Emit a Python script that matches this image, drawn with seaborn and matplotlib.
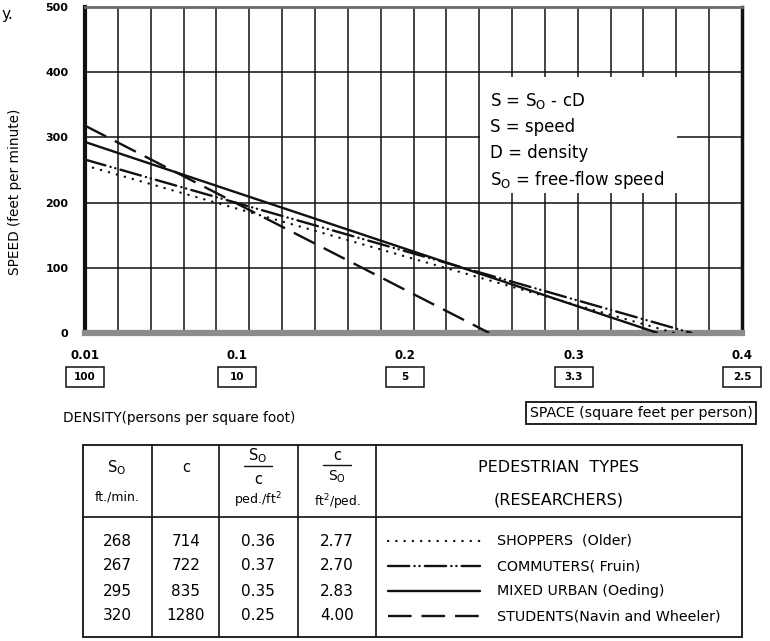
import numpy as np
import pandas as pd
import matplotlib
matplotlib.use("Agg")
import matplotlib.pyplot as plt
from matplotlib.patches import Rectangle
from matplotlib.lines import Line2D
import seaborn as sns

# ---------------- data ----------------
ped_types = ["SHOPPERS (Older)", "COMMUTERS (Fruin)", "MIXED URBAN (Oeding)",
             "STUDENTS (Navin and Wheeler)"]
free_flow_speed = [268, 267, 295, 320]          # S0, ft/min (table)
c_coef = [714, 722, 835, 1280]                   # c (table)
jam_density = [0.36, 0.37, 0.35, 0.25]           # S0/c, ped/ft2 (table)
space_at_jam = [2.77, 2.70, 2.83, 4.00]          # c/S0, ft2/ped (table)
line_start_speed = [257, 266, 293, 318]          # speed read at left edge of chart
density_ticks = [0.01, 0.1, 0.2, 0.3, 0.4]
density_tick_labels = ["0.01", "0.1", "0.2", "0.3", "0.4"]
space_tick_labels = ["100", "10", "5", "3.3", "2.5"]
speed_ticks = [0, 100, 200, 300, 400, 500]

x_min, x_max = 0.01, 0.4

rows = []
for t, s0, dj in zip(ped_types, line_start_speed, jam_density):
    rows.append({"type": t, "density": x_min, "speed": s0})
    rows.append({"type": t, "density": dj, "speed": 0})
df = pd.DataFrame(rows)

dash_map = {
    ped_types[0]: (0.1, 3.4),
    ped_types[1]: (9, 2.2, 0.1, 2.0, 0.1, 2.2),
    ped_types[2]: "",
    ped_types[3]: (10, 4.2),
}

# ---------------- figure ----------------
sns.set_style("white")
plt.rcParams["font.family"] = ["DejaVu Sans"]
plt.rcParams["mathtext.default"] = "regular"
plt.rcParams["text.color"] = "black"
plt.rcParams["xtick.color"] = "black"
plt.rcParams["ytick.color"] = "black"
plt.rcParams["axes.labelcolor"] = "black"

W, H = 770, 641
fig = plt.figure(figsize=(W / 100, H / 100), dpi=100)
ax = fig.add_axes([85 / W, 1 - 333 / H, 657 / W, 326 / H])

LW = 1.7
sns.lineplot(data=df, x="density", y="speed", style="type", style_order=ped_types,
             dashes=dash_map, color="#111111", linewidth=LW, legend=False,
             estimator=None, sort=False, ax=ax, zorder=3)
for ln, t in zip(ax.lines, ped_types):
    ln.set_dash_capstyle("round" if t != ped_types[3] else "butt")
    ln.set_solid_capstyle("butt")

ax.set_xlim(x_min, x_max)
ax.set_ylim(0, 500)
ax.set_xticks(np.linspace(x_min, x_max, 21))
ax.set_xticklabels([])
ax.set_yticks(speed_ticks)
ax.set_yticklabels([str(v) for v in speed_ticks], fontsize=8, fontweight="bold")
ax.tick_params(axis="x", length=7, width=1.1, direction="out", color="black", pad=2)
ax.tick_params(axis="y", length=7, width=1.1, direction="out", color="black", pad=5)
ax.grid(True, color="#111111", linewidth=1.1)
ax.set_axisbelow(True)
ax.set_xlabel("")
ax.set_ylabel("")

ax.spines["left"].set_linewidth(3)
ax.spines["left"].set_color("#111111")
ax.spines["right"].set_linewidth(2.5)
ax.spines["right"].set_color("#111111")
ax.spines["top"].set_linewidth(2)
ax.spines["top"].set_color("#6a6a6a")
ax.spines["bottom"].set_linewidth(4.5)
ax.spines["bottom"].set_color("#8c8c8c")

# formula box
ax.add_patch(Rectangle((0.601, 0.429), 0.30, 0.356, transform=ax.transAxes,
                       facecolor="white", edgecolor="none", zorder=1.5))
formula = ["S = S$_{O}$ - cD", "S = speed", "D = density", "S$_{O}$ = free-flow speed"]
for txt, yy in zip(formula, [0.712, 0.632, 0.552, 0.469]):
    ax.text(0.616, yy, txt, transform=ax.transAxes, fontsize=12, va="center",
            ha="left", zorder=4)

# density / space labels under axis
xt = ax.get_xaxis_transform()
box_w = 38 / 657 * (x_max - x_min)
box_h = 20 / 326
for d, dl, sl in zip(density_ticks, density_tick_labels, space_tick_labels):
    ax.text(d, -0.070, dl, transform=xt, ha="center", va="center",
            fontsize=8.5, fontweight="bold", clip_on=False)
    ax.add_patch(Rectangle((d - box_w / 2, -0.135 - box_h / 2), box_w, box_h,
                           transform=xt, facecolor="white", edgecolor="#111111",
                           linewidth=1.1, clip_on=False))
    ax.text(d, -0.135, sl, transform=xt, ha="center", va="center",
            fontsize=7.5, fontweight="bold", clip_on=False)

fig.text(63 / W, 1 - 418 / H, "DENSITY(persons per square foot)", fontsize=9.8,
         ha="left", va="center")
fig.text(641 / W, 1 - 413 / H, "SPACE (square feet per person)", fontsize=10.2,
         ha="center", va="center",
         bbox=dict(boxstyle="square,pad=0.25", facecolor="white",
                   edgecolor="#111111", linewidth=1.3))
fig.text(15 / W, 1 - 192 / H, "SPEED (feet per minute)", fontsize=9.8,
         rotation=90, ha="center", va="center")
fig.text(2 / W, 1 - 14 / H, "y.", fontsize=11, ha="left", va="center")

# ---------------- table (overlay in pixel coords) ----------------
ov = fig.add_axes([0, 0, 1, 1])
ov.set_xlim(0, W)
ov.set_ylim(H, 0)
ov.axis("off")
ov.patch.set_alpha(0)

k = dict(color="#111111", linewidth=1.2)
top, hdr, bot, left, right = 445, 517, 637, 83, 742
ov.add_patch(Rectangle((left, top), right - left, bot - top, fill=False,
                       edgecolor="#111111", linewidth=1.3))
for xc in [152, 219, 298, 376]:
    ov.plot([xc, xc], [top, bot], **k)
ov.plot([left, right], [hdr, hdr], **k)

fs_h = 9
ov.text(117, 468, "S$_{O}$", fontsize=10.5, ha="center", va="center")
ov.text(117, 497, "ft./min.", fontsize=fs_h, ha="center", va="center")
ov.text(186, 468, "c", fontsize=10.5, ha="center", va="center")
ov.text(258, 456, "S$_{O}$", fontsize=10.5, ha="center", va="center")
ov.plot([244, 272], [466, 466], color="#111111", linewidth=1)
ov.text(258, 479, "c", fontsize=10.5, ha="center", va="center")
ov.text(258, 500, "ped./ft$^{2}$", fontsize=fs_h, ha="center", va="center")
ov.text(337, 455, "c", fontsize=10.5, ha="center", va="center")
ov.plot([323, 351], [465, 465], color="#111111", linewidth=1)
ov.text(337, 477, "S$_{O}$", fontsize=10, ha="center", va="center")
ov.text(337, 502, "ft$^{2}$/ped.", fontsize=8.8, ha="center", va="center")
ov.text(559, 467, "PEDESTRIAN  TYPES", fontsize=11.5, ha="center", va="center")
ov.text(559, 500, "(RESEARCHERS)", fontsize=11.5, ha="center", va="center")

row_y = [541, 566, 591, 616]
for i, yy in enumerate(row_y):
    ov.text(117, yy, str(free_flow_speed[i]), fontsize=11, ha="center", va="center")
    ov.text(186, yy, str(c_coef[i]), fontsize=11, ha="center", va="center")
    ov.text(258, yy, f"{jam_density[i]:.2f}", fontsize=11, ha="center", va="center")
    ov.text(337, yy, f"{space_at_jam[i]:.2f}", fontsize=11, ha="center", va="center")
    d = dash_map[ped_types[i]]
    ln = Line2D([388, 480], [yy, yy], color="#111111", linewidth=LW)
    if d != "":
        ln.set_dashes(d)
    ln.set_dash_capstyle("round" if i != 3 else "butt")
    ov.add_line(ln)
    lab = ped_types[i].replace("(Older)", " (Older)").replace(" (Fruin)", "( Fruin)") \
        .replace("STUDENTS (", "STUDENTS(")
    ov.text(497, yy, lab, fontsize=10.3, ha="left", va="center")

fig.savefig("out.png", dpi=100)
